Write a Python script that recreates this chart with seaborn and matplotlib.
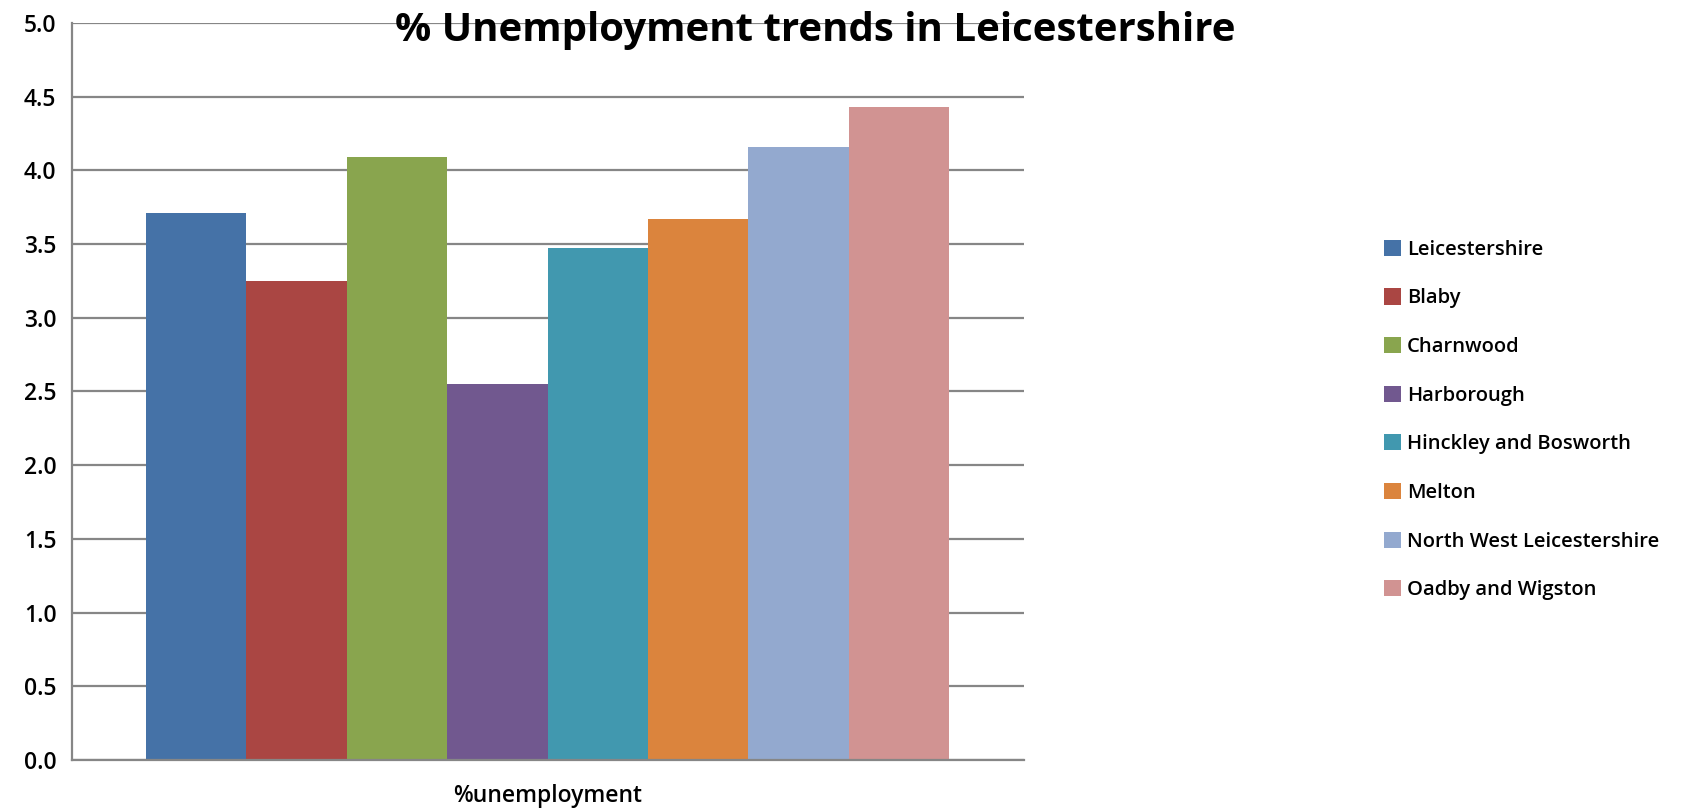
import matplotlib
matplotlib.use("Agg")
import matplotlib.pyplot as plt
from matplotlib.ticker import MultipleLocator, FixedLocator, FormatStrFormatter
import seaborn as sns
import pandas as pd

# Unemployment rate (%) by district
districts = ["Leicestershire", "Blaby", "Charnwood", "Harborough",
             "Hinckley and Bosworth", "Melton", "North West Leicestershire",
             "Oadby and Wigston"]
unemployment = [3.71, 3.25, 4.09, 2.55, 3.47, 3.67, 4.16, 4.43]
category = "%unemployment"
colors = ["#4572A7", "#AA4643", "#89A54E", "#71588F",
          "#4198AF", "#DB843D", "#93A9CF", "#D19392"]
title = "% Unemployment trends in Leicestershire"

df = pd.DataFrame({
    "measure": [category] * len(districts),
    "district": districts,
    "value": unemployment,
})

sns.set_theme(style="white")
plt.rcParams["font.family"] = ["Open Sans", "DejaVu Sans"]
plt.rcParams["text.color"] = "black"

grey = "#868686"

fig = plt.figure(figsize=(17.02, 8.09), dpi=100)
ax = fig.add_axes([0.0421, 0.0606, 0.5593, 0.9112])

sns.barplot(data=df, x="measure", y="value", hue="district",
            hue_order=districts, palette=colors, width=0.844, gap=0,
            errorbar=None, saturation=1, linewidth=0, ax=ax)

ax.set_xlim(-0.5, 0.5)
ax.set_ylim(0, 5)
ax.yaxis.set_major_locator(MultipleLocator(0.5))
ax.yaxis.set_major_formatter(FormatStrFormatter("%.1f"))
ax.yaxis.grid(True, color=grey, linewidth=1.6)
ax.set_axisbelow(True)

for side in ("top", "right"):
    ax.spines[side].set_visible(False)
for side in ("left", "bottom"):
    ax.spines[side].set_color(grey)
    ax.spines[side].set_linewidth(1.6)

ax.set_xlabel("")
ax.set_ylabel("")
ax.tick_params(axis="y", which="major", direction="out", length=6,
               width=1.6, color=grey, labelsize=16.5, pad=5, labelcolor="black")
ax.tick_params(axis="x", which="major", length=0, labelsize=16.5, pad=17,
               labelcolor="black")
for lbl in ax.get_yticklabels() + ax.get_xticklabels():
    lbl.set_fontweight("semibold")
ax.xaxis.set_minor_locator(FixedLocator([-0.5, 0.5]))
ax.tick_params(axis="x", which="minor", direction="out", length=9,
               width=1.6, color=grey)

handles, labels = ax.get_legend_handles_labels()
ax.get_legend().remove()
fig.legend(handles, labels, loc="center left",
           bbox_to_anchor=(1384 / 1702, 1 - 420 / 809),
           frameon=False, prop={"size": 14.5, "weight": "semibold"},
           handlelength=0.85, handleheight=0.85,
           handletextpad=0.3, labelspacing=1.42, borderpad=0,
           borderaxespad=0)

fig.text(815 / 1702, 1 - 30 / 809, title, ha="center", va="center",
         fontsize=29, fontweight="bold")

fig.savefig("out.png", dpi=100)
